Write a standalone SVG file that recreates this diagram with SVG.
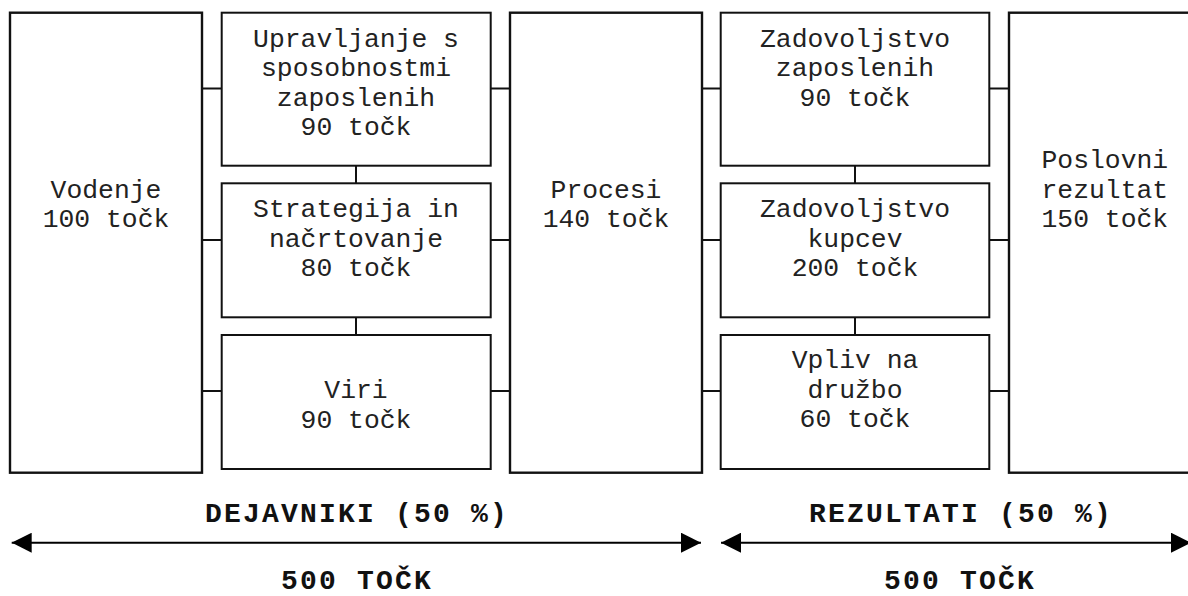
<svg xmlns="http://www.w3.org/2000/svg" width="1188" height="596" viewBox="0 0 1188 596">
  <style>
    .box { fill: #fff; stroke: #111; stroke-width: 2; }
    .big { stroke-width: 2.4; }
    .link { stroke: #111; stroke-width: 2; fill: none; }
    .t { font-family: "Liberation Mono", "Courier New", monospace; font-size: 26.4px; fill: #222; text-anchor: middle; }
    .h { font-family: "Liberation Mono", "Courier New", monospace; font-size: 28px; font-weight: bold; letter-spacing: 2.2px; fill: #111; text-anchor: middle; }
    .span { stroke: #000; stroke-width: 2; fill: none; marker-start: url(#head); marker-end: url(#head); }
  </style>
  <defs>
    <marker id="head" markerUnits="userSpaceOnUse" markerWidth="20" markerHeight="20" refX="20" refY="10" orient="auto-start-reverse">
      <path d="M0,0 L20,10 L0,20 z" fill="#000"/>
    </marker>
  </defs>
  <rect width="1188" height="596" fill="#fff"/>

  <!-- connectors -->
  <g id="connectors">
    <line class="link" x1="202" y1="88.5" x2="222" y2="88.5"/>
    <line class="link" x1="202" y1="240" x2="222" y2="240"/>
    <line class="link" x1="202" y1="391" x2="222" y2="391"/>
    <line class="link" x1="356" y1="164" x2="356" y2="184"/>
    <line class="link" x1="356" y1="316" x2="356" y2="336"/>
    <line class="link" x1="490" y1="88.5" x2="510" y2="88.5"/>
    <line class="link" x1="490" y1="240" x2="510" y2="240"/>
    <line class="link" x1="490" y1="391" x2="510" y2="391"/>
    <line class="link" x1="702" y1="88.5" x2="721" y2="88.5"/>
    <line class="link" x1="702" y1="240" x2="721" y2="240"/>
    <line class="link" x1="702" y1="391" x2="721" y2="391"/>
    <line class="link" x1="855" y1="164" x2="855" y2="184"/>
    <line class="link" x1="855" y1="316" x2="855" y2="336"/>
    <line class="link" x1="989" y1="88.5" x2="1009" y2="88.5"/>
    <line class="link" x1="989" y1="240" x2="1009" y2="240"/>
    <line class="link" x1="989" y1="391" x2="1009" y2="391"/>
  </g>

  <g id="vodenje">
    <rect class="box big" x="10" y="12.7" width="192" height="460"/>
    <text class="t" x="106" y="197.5">Vodenje</text>
    <text class="t" x="106" y="227">100 točk</text>
  </g>

  <g id="upravljanje">
    <rect class="box" x="221.7" y="12.7" width="269" height="153"/>
    <text class="t" x="356" y="46.7">Upravljanje s</text>
    <text class="t" x="356" y="76.2">sposobnostmi</text>
    <text class="t" x="356" y="105.7">zaposlenih</text>
    <text class="t" x="356" y="135.2">90 točk</text>
  </g>

  <g id="strategija">
    <rect class="box" x="221.7" y="183.3" width="269" height="134"/>
    <text class="t" x="356" y="217.3">Strategija in</text>
    <text class="t" x="356" y="246.8">načrtovanje</text>
    <text class="t" x="356" y="276.3">80 točk</text>
  </g>

  <g id="viri">
    <rect class="box" x="221.7" y="335" width="269" height="134"/>
    <text class="t" x="356" y="398.3">Viri</text>
    <text class="t" x="356" y="427.5">90 točk</text>
  </g>

  <g id="procesi">
    <rect class="box big" x="510" y="12.7" width="192" height="460"/>
    <text class="t" x="606" y="197.5">Procesi</text>
    <text class="t" x="606" y="227">140 točk</text>
  </g>

  <g id="zadovoljstvo-zaposlenih">
    <rect class="box" x="720.7" y="12.7" width="268.6" height="153"/>
    <text class="t" x="855" y="46.7">Zadovoljstvo</text>
    <text class="t" x="855" y="76.2">zaposlenih</text>
    <text class="t" x="855" y="105.7">90 točk</text>
  </g>

  <g id="zadovoljstvo-kupcev">
    <rect class="box" x="720.7" y="183.3" width="268.6" height="134"/>
    <text class="t" x="855" y="217.3">Zadovoljstvo</text>
    <text class="t" x="855" y="246.8">kupcev</text>
    <text class="t" x="855" y="276.3">200 točk</text>
  </g>

  <g id="vpliv">
    <rect class="box" x="720.7" y="335" width="268.6" height="134"/>
    <text class="t" x="855" y="368.3">Vpliv na</text>
    <text class="t" x="855" y="397.8">družbo</text>
    <text class="t" x="855" y="427.3">60 točk</text>
  </g>

  <g id="poslovni-rezultat">
    <rect class="box big" x="1009" y="12.7" width="200" height="460"/>
    <text class="t" x="1041.5" y="168" style="text-anchor:start">Poslovni</text>
    <text class="t" x="1041.5" y="197.5" style="text-anchor:start">rezultat</text>
    <text class="t" x="1041.5" y="227" style="text-anchor:start">150 točk</text>
  </g>

  <!-- weighting spans -->
  <g id="dejavniki">
    <text class="h" x="357" y="522">DEJAVNIKI (50 %)</text>
    <line class="span" x1="11.7" y1="542.7" x2="701" y2="542.7"/>
    <text class="h" x="357" y="589">500 TOČK</text>
  </g>
  <g id="rezultati">
    <text class="h" x="961" y="522">REZULTATI (50 %)</text>
    <line class="span" x1="721" y1="542.7" x2="1191" y2="542.7"/>
    <text class="h" x="960" y="589">500 TOČK</text>
  </g>
</svg>
